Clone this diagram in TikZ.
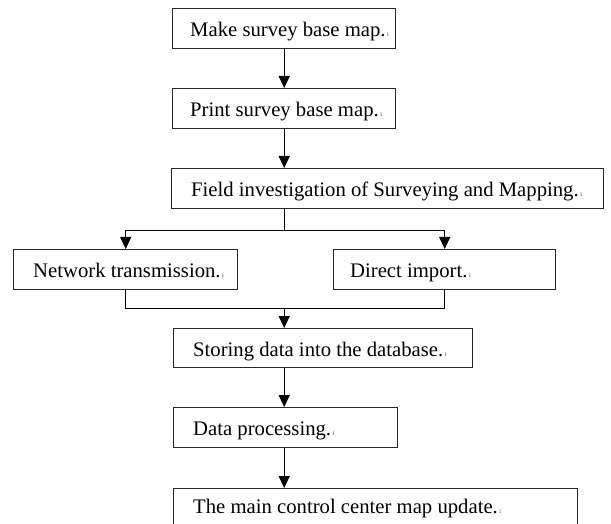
\documentclass[tikz,border=0pt]{standalone}
\usepackage{fontspec}
\setmainfont{Liberation Serif}
\usetikzlibrary{calc,arrows.meta}
\newcommand\pmark{{\color{black!55}\fontsize{8}{8}\selectfont\,ı}}
\begin{document}
\begin{tikzpicture}[x=1pt,y=1pt,
  box/.style={draw=black!85, line width=1.4pt, rectangle, anchor=north west, inner sep=0pt},
  txt/.style={anchor=base west, inner sep=0pt, font=\fontsize{20.7}{22}\selectfont},
  conn/.style={line width=1.3pt, black},
  arr/.style={conn, -{Triangle[width=11pt,length=12pt]}}]
\useasboundingbox (0,0) rectangle (611,-524);
\clip (0,0) rectangle (611,-524);
% boxes
\node[box, minimum width=223pt, minimum height=40pt] (b1) at (172,-8) {};
\node[box, minimum width=223pt, minimum height=40pt] (b2) at (172,-88) {};
\node[box, minimum width=432pt, minimum height=40pt] (b3) at (171,-168) {};
\node[box, minimum width=224pt, minimum height=40pt] (b4) at (13,-249) {};
\node[box, minimum width=222pt, minimum height=40pt] (b5) at (333,-249) {};
\node[box, minimum width=299pt, minimum height=39pt] (b6) at (173,-328) {};
\node[box, minimum width=224pt, minimum height=40pt] (b7) at (173,-407) {};
\node[box, minimum width=404pt, minimum height=50pt] (b8) at (173,-488) {};
% texts
\node[txt] (t1) at ($(b1.west)+(18,-8)$) {Make survey base map.\pmark};
\node[txt] (t2) at ($(b2.west)+(18,-8)$) {Print survey base map.\pmark};
\node[txt] (t3) at ($(b3.west)+(20,-8)$) {Field investigation of Surveying and Mapping.\pmark};
\node[txt] (t4) at ($(b4.west)+(20,-8)$) {Network transmission.\pmark};
\node[txt] (t5) at ($(b5.west)+(17,-8)$) {Direct import.\pmark};
\node[txt] (t6) at ($(b6.west)+(20,-8)$) {Storing data into the database.\pmark};
\node[txt] (t7) at ($(b7.west)+(20,-8)$) {Data processing.\pmark};
\node[txt] (t8) at ($(b8.north west)+(20,-25)$) {The main control center map update.\pmark};
% connectors
\coordinate (br) at ($(b3.south -| b1.south)+(0,-21)$);
\coordinate (mg) at ($(b4.south)+(0,-18)$);
\draw[arr] (b1.south) -- (b2.north);
\draw[arr] (b2.south) -- (b3.north -| b2.south);
\draw[conn] (b3.south -| b1.south) -- (br);
\draw[arr] (br) -| (b4.north);
\draw[arr] (br) -| (b5.north);
\draw[conn] (b4.south) |- (mg) -| (b5.south);
\draw[arr] (mg -| b1.south) -- (b6.north -| b1.south);
\draw[arr] (b6.south -| b1.south) -- (b7.north -| b1.south);
\draw[arr] (b7.south -| b1.south) -- (b8.north -| b1.south);
\end{tikzpicture}
\end{document}
